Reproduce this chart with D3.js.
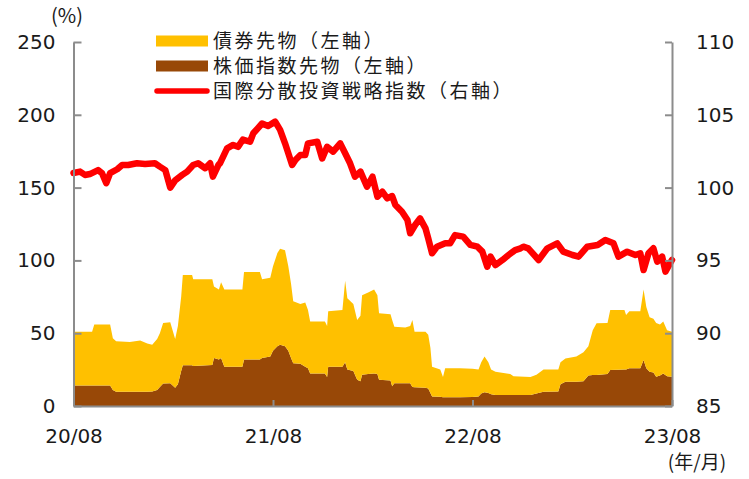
<!DOCTYPE html>
<html>
<head>
<meta charset="utf-8">
<script src="https://cdn.jsdelivr.net/npm/d3@7"></script>
<style>
  body { margin: 0; background: #fff; }
  svg { display: block; }
</style>
</head>
<body>
<svg id="chart" width="749" height="479"></svg>
<script>
// Series names shown in the legend
const seriesNames = ["債券先物（左軸）", "株価指数先物（左軸）", "国際分散投資戦略指数（右軸）"];

// Futures allocation (%, left axis)
const areaDates = [
  "2020-08-01","2020-09-04","2020-09-08","2020-10-07","2020-10-12","2020-10-18","2020-11-12","2020-12-01",
  "2020-12-14","2020-12-23","2021-01-01","2021-01-06","2021-01-12","2021-01-25","2021-02-03","2021-02-08",
  "2021-02-14","2021-02-17","2021-03-06","2021-03-08","2021-04-12","2021-04-15","2021-04-24","2021-04-28",
  "2021-05-04","2021-06-06","2021-06-09","2021-07-08","2021-07-12","2021-07-27","2021-08-01","2021-08-09",
  "2021-08-14","2021-08-23","2021-08-29","2021-09-03","2021-09-07","2021-09-20","2021-09-29","2021-10-04",
  "2021-10-08","2021-11-04","2021-11-08","2021-11-10","2021-12-06","2021-12-11","2021-12-15","2021-12-26",
  "2022-01-02","2022-01-08","2022-01-11","2022-01-22","2022-02-02","2022-02-08","2022-02-11","2022-03-04",
  "2022-03-07","2022-03-11","2022-03-31","2022-04-09","2022-04-13","2022-04-17","2022-05-07","2022-05-12",
  "2022-05-16","2022-05-19","2022-06-03","2022-06-08","2022-06-12","2022-07-09","2022-08-01","2022-08-12",
  "2022-08-17","2022-08-23","2022-08-30","2022-09-04","2022-09-12","2022-10-09","2022-10-15","2022-11-15",
  "2022-11-26","2022-12-09","2023-01-05","2023-01-09","2023-01-18","2023-02-07","2023-02-20","2023-03-01",
  "2023-03-09","2023-03-16","2023-04-05","2023-04-10","2023-05-06","2023-05-09","2023-05-15","2023-06-04",
  "2023-06-10","2023-06-15","2023-06-21","2023-06-28","2023-07-03","2023-07-10","2023-07-16","2023-07-23",
  "2023-08-01"
];
const stockFutures = [
  14, 14, 14, 14, 11, 9.8, 9.8, 9.8,
  9.8, 10, 11, 13, 15.5, 15.6, 12.5, 15,
  24, 28, 28, 27.5, 28.2, 33, 32, 33,
  27, 27, 32, 32, 33, 34, 38, 41,
  42, 41, 38, 33, 29.3, 29, 27, 26,
  22.4, 22.4, 20, 27, 27, 30, 25, 24,
  18, 17, 21.5, 22, 22.4, 22, 18, 17.5,
  13.5, 15.6, 15.6, 15.6, 13, 12.8, 12.5, 12,
  9, 6.5, 6.4, 6, 6, 6, 6.2, 6.5,
  8.5, 9.4, 9, 8, 7.6, 7.6, 7.6, 7.6,
  8.5, 9.8, 10, 15, 16.7, 16.7, 17, 21,
  21.3, 21.3, 22, 24.7, 25, 25, 25.9, 26,
  31.6, 26, 23.6, 23, 20.1, 21, 22.4, 20.5,
  20.1
];
const bondFutures = [
  37, 37, 42, 42, 35.5, 34.7, 34.2, 35.2,
  33.2, 32, 35, 37, 41.5, 41.9, 33.5, 40,
  51, 62, 62, 59.5, 58.8, 49, 48, 52,
  53, 53, 60, 60, 54, 54, 58, 64,
  66, 66, 58, 51, 42.7, 41, 44, 40,
  35.6, 35.6, 35, 38, 39, 56, 49, 46,
  41, 45, 54.5, 56, 57.6, 54, 45.7, 45.5,
  45.5, 38.9, 38.4, 39.4, 46, 38.2, 38.5, 37,
  31, 20.5, 18.6, 14, 20, 20, 19.3, 18.5,
  21.5, 24.6, 21, 17, 15.9, 14.4, 12.9, 12.4,
  13, 15.2, 15, 15, 16, 17.3, 20, 20,
  30.7, 35.5, 35, 41.3, 41, 37.5, 39.1, 39,
  48.4, 42, 37.4, 37, 36.9, 35, 35.6, 31.5,
  30.9
];

// Strategy index (right axis)
const indexDates = [
  "2020-08-01","2020-08-13","2020-08-22","2020-08-31","2020-09-15","2020-09-22","2020-09-30","2020-10-07",
  "2020-10-20","2020-10-29","2020-11-09","2020-11-25","2020-12-10","2020-12-28","2021-01-06","2021-01-16",
  "2021-01-25","2021-02-03","2021-02-16","2021-02-25","2021-03-08","2021-03-17","2021-03-30","2021-04-08",
  "2021-04-13","2021-04-23","2021-04-26","2021-05-04","2021-05-09","2021-05-20","2021-05-29","2021-06-07",
  "2021-06-20","2021-06-26","2021-07-12","2021-07-23","2021-08-05","2021-08-14","2021-08-23","2021-08-29",
  "2021-09-05","2021-09-11","2021-09-20","2021-09-29","2021-10-04","2021-10-21","2021-10-30","2021-11-08",
  "2021-11-19","2021-12-02","2021-12-11","2021-12-20","2021-12-29","2022-01-08","2022-01-20","2022-01-30",
  "2022-02-08","2022-02-17","2022-02-26","2022-03-07","2022-03-13","2022-03-25","2022-04-04","2022-04-09",
  "2022-04-18","2022-04-27","2022-05-07","2022-05-12","2022-05-19","2022-05-28","2022-06-12","2022-06-21",
  "2022-06-30","2022-07-15","2022-07-28","2022-08-10","2022-08-19","2022-08-28","2022-09-03","2022-09-12",
  "2022-09-25","2022-10-06","2022-10-18","2022-10-28","2022-11-02","2022-11-11","2022-11-30","2022-12-16",
  "2023-01-03","2023-01-14","2023-01-31","2023-02-11","2023-02-27","2023-03-18","2023-04-01","2023-04-16",
  "2023-04-25","2023-05-11","2023-05-26","2023-06-04","2023-06-10","2023-06-19","2023-06-28","2023-07-05",
  "2023-07-14","2023-07-20","2023-07-25","2023-08-01"
];
const indexValues = [
  101.0, 101.1, 100.87, 100.93, 101.2, 101.0, 100.3, 101.0,
  101.26, 101.55, 101.55, 101.67, 101.62, 101.67, 101.44, 101.2,
  100.0, 100.5, 100.87, 101.1, 101.55, 101.67, 101.33, 101.67,
  100.75, 101.55, 101.67, 102.3, 102.7, 102.93, 102.8, 103.3,
  103.15, 103.73, 104.4, 104.23, 104.53, 103.96, 103.04, 102.36,
  101.55, 101.9, 102.24, 102.24, 103.04, 103.15, 102.0, 102.8,
  102.47, 103.04, 102.36, 101.67, 100.75, 101.1, 100.06, 100.75,
  99.37, 99.72, 99.26, 99.42, 98.8, 98.34, 97.77, 96.86,
  97.43, 97.89, 97.2, 96.52, 95.49, 95.94, 96.17, 96.17,
  96.74, 96.63, 96.06, 95.94, 95.6, 94.57, 95.26, 94.68,
  95.03, 95.37, 95.71, 95.83, 95.94, 95.83, 95.03, 95.83,
  96.17, 95.6, 95.37, 95.26, 95.94, 96.06, 96.4, 96.17,
  95.26, 95.6, 95.37, 95.49, 94.34, 95.49, 95.83, 94.91,
  95.26, 94.23, 94.57, 95.03
];

// Axis ticks
const leftTicks = [0, 50, 100, 150, 200, 250];
const rightTicks = [85, 90, 95, 100, 105, 110];
const xTickDates = ["2020-08-01", "2021-08-01", "2022-08-01", "2023-08-01"];
const xTickLabels = ["20/08", "21/08", "22/08", "23/08"];

const colors = { bond: "#FFC000", stock: "#984807", index: "#FF0000", axis: "#8C8C8C", text: "#1A1A1A" };
const numFont = "'DejaVu Sans', 'Noto Sans CJK JP', sans-serif";
const jpFont = "'Noto Sans CJK JP', 'DejaVu Sans', sans-serif";

const parse = d3.timeParse("%Y-%m-%d");
const svg = d3.select("#chart");

const plot = { left: 73.5, right: 672, top: 42, bottom: 406 };

const x = d3.scaleTime()
  .domain([parse(xTickDates[0]), parse(xTickDates[xTickDates.length - 1])])
  .range([plot.left, plot.right]);
const yL = d3.scaleLinear().domain([0, 250]).range([plot.bottom, plot.top]);
const yR = d3.scaleLinear().domain([85, 110]).range([plot.bottom, plot.top]);

// Stacked areas: stock index futures at the bottom, bond futures on top
const areaRows = areaDates.map((d, i) => ({ date: parse(d), stock: stockFutures[i], bond: bondFutures[i] }));
const stacked = d3.stack().keys(["stock", "bond"])(areaRows);
const area = d3.area()
  .x(d => x(d.data.date))
  .y0(d => yL(d[0]))
  .y1(d => yL(d[1]));

svg.append("g").selectAll("path")
  .data(stacked)
  .join("path")
  .attr("d", area)
  .attr("fill", d => d.key === "stock" ? colors.stock : colors.bond);

// Strategy index line
const lineRows = indexDates.map((d, i) => ({ date: parse(d), v: indexValues[i] }));
svg.append("path")
  .datum(lineRows)
  .attr("d", d3.line().x(d => x(d.date)).y(d => yR(d.v)))
  .attr("fill", "none")
  .attr("stroke", colors.index)
  .attr("stroke-width", 6.5)
  .attr("stroke-linejoin", "round")
  .attr("stroke-linecap", "round");

// Axes
function styleAxis(g) {
  g.selectAll(".domain, .tick line").attr("stroke", colors.axis).attr("stroke-width", 2);
  g.selectAll("text").attr("fill", colors.text).style("font-family", numFont).style("font-size", "20px");
}

svg.append("g")
  .attr("transform", `translate(${plot.left},0)`)
  .call(d3.axisLeft(yL).tickValues(leftTicks).tickSizeInner(-8).tickSizeOuter(0).tickPadding(18))
  .call(styleAxis);

svg.append("g")
  .attr("transform", `translate(${plot.right},0)`)
  .call(d3.axisRight(yR).tickValues(rightTicks).tickSizeInner(-7).tickSizeOuter(0).tickPadding(24))
  .call(styleAxis);

svg.append("g")
  .attr("transform", `translate(0,${plot.bottom})`)
  .call(d3.axisBottom(x)
    .tickValues(xTickDates.map(parse))
    .tickFormat((d, i) => xTickLabels[i])
    .tickSizeInner(-6).tickSizeOuter(0).tickPadding(23))
  .call(styleAxis);

// Unit labels
svg.append("text")
  .attr("x", 67).attr("y", 23)
  .attr("text-anchor", "middle")
  .attr("fill", colors.text)
  .style("font-family", jpFont).style("font-size", "20px")
  .text("(%)");

svg.append("text")
  .attr("x", 697).attr("y", 469)
  .attr("text-anchor", "middle")
  .attr("fill", colors.text)
  .style("font-family", jpFont).style("font-size", "19px")
  .text("(年/月)");

// Legend
const legend = svg.append("g").attr("transform", "translate(156,0)");
const rows = [
  { name: seriesNames[0], type: "rect", color: colors.bond, y: 41 },
  { name: seriesNames[1], type: "rect", color: colors.stock, y: 66 },
  { name: seriesNames[2], type: "line", color: colors.index, y: 91 }
];
rows.forEach(r => {
  if (r.type === "rect") {
    legend.append("rect").attr("x", 0).attr("y", r.y - 5.5).attr("width", 52).attr("height", 11).attr("fill", r.color);
  } else {
    legend.append("line").attr("x1", 1).attr("x2", 51).attr("y1", r.y).attr("y2", r.y)
      .attr("stroke", r.color).attr("stroke-width", 5.5).attr("stroke-linecap", "round");
  }
  legend.append("text")
    .attr("x", 57).attr("y", r.y).attr("dy", "0.36em")
    .attr("fill", colors.text)
    .style("font-family", jpFont).style("font-size", "19px")
    .style("letter-spacing", "2.5px")
    .text(r.name);
});
</script>
</body>
</html>
